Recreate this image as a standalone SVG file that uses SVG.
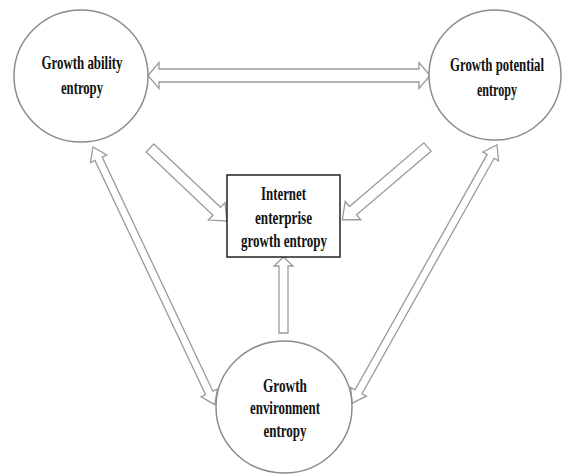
<svg xmlns="http://www.w3.org/2000/svg" width="562" height="475" viewBox="0 0 562 475">
<style>
.node{fill:#fff;stroke:#8c8c8c;stroke-width:1.5}
.box{fill:#fff;stroke:#222;stroke-width:1.5}
.arr{fill:#fff;stroke:#9a9a9a;stroke-width:1.3;stroke-linejoin:miter}
text{font-family:"Liberation Serif","Times New Roman",serif;font-weight:bold;font-size:19px;fill:#111;text-anchor:middle}
</style>
<rect width="562" height="475" fill="#fff"/>
<g id="connectors">
<polygon class="arr" points="148,75.5 159,62.5 159,69 419,69 419,62.5 430,75.5 419,88.5 419,82 159,82 159,88.5"/>
<polygon class="arr" transform="translate(150,148) rotate(43.5)" points="0,-5.5 92,-5.5 92,-12 106,0 92,12 92,5.5 0,5.5"/>
<polygon class="arr" transform="translate(427.5,147) rotate(139.5)" points="0,-5.5 98,-5.5 98,-12 112,0 98,12 98,5.5 0,5.5"/>
<polygon class="arr" points="283.5,257 293,266 288,266 288,333 279,333 279,266 274,266"/>
<polygon class="arr" transform="translate(93,147) rotate(64.7)" points="0,0 13,-9 13,-4 272,-4 272,-9 285,0 272,9 272,4 13,4 13,9"/>
<polygon class="arr" transform="translate(497,145) rotate(119.3)" points="0,0 13,-9 13,-4 283,-4 283,-9 296,0 283,9 283,4 13,4 13,9"/>
</g>
<g id="growth-ability">
<ellipse class="node" cx="81" cy="76" rx="67" ry="66"/>
<text x="82" y="69" textLength="81" lengthAdjust="spacingAndGlyphs">Growth ability</text>
<text x="82" y="94" textLength="42" lengthAdjust="spacingAndGlyphs">entropy</text>
</g>
<g id="growth-potential">
<ellipse class="node" cx="495" cy="75" rx="66" ry="65"/>
<text x="497" y="71" textLength="94" lengthAdjust="spacingAndGlyphs">Growth potential</text>
<text x="497" y="96" textLength="40" lengthAdjust="spacingAndGlyphs">entropy</text>
</g>
<g id="internet-enterprise">
<rect class="box" x="227" y="175" width="113" height="82"/>
<text x="283.5" y="200" textLength="45" lengthAdjust="spacingAndGlyphs">Internet</text>
<text x="283.5" y="224" textLength="57" lengthAdjust="spacingAndGlyphs">enterprise</text>
<text x="284" y="247" textLength="86" lengthAdjust="spacingAndGlyphs">growth entropy</text>
</g>
<g id="growth-environment">
<ellipse class="node" cx="284" cy="407" rx="68" ry="66"/>
<text x="285" y="392" textLength="44" lengthAdjust="spacingAndGlyphs">Growth</text>
<text x="285" y="414" textLength="70" lengthAdjust="spacingAndGlyphs">environment</text>
<text x="285" y="437" textLength="43" lengthAdjust="spacingAndGlyphs">entropy</text>
</g>
</svg>
